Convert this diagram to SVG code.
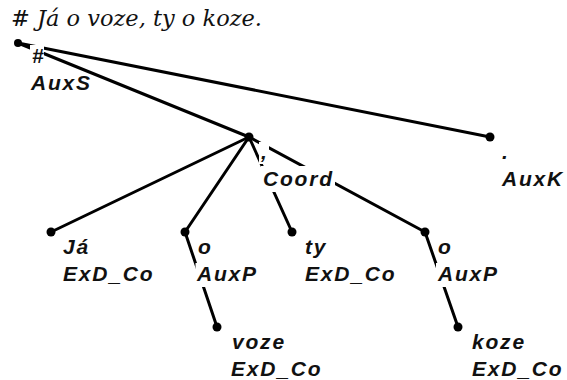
<svg xmlns="http://www.w3.org/2000/svg" width="567" height="380" viewBox="0 0 567 380">
<style>
.e{stroke:#000;stroke-width:3;fill:none;stroke-linecap:round}
.d{fill:#000}
.bg{fill:#fff}
.t{font-family:"Liberation Sans",Arial,sans-serif;font-style:italic;font-weight:bold;font-size:21px;letter-spacing:1.8px;fill:#111}
.title{font-family:"DejaVu Serif","Liberation Serif",serif;font-style:italic;font-size:22px;fill:#111}
</style>
<rect width="567" height="380" fill="#fff"/>
<text class="title" x="11" y="26" textLength="251" lengthAdjust="spacingAndGlyphs"># Já o voze, ty o koze.</text>
<g id="connectors">
<line class="e" x1="18" y1="43" x2="490" y2="137"/>
<line class="e" x1="18" y1="43" x2="249" y2="137"/>
<line class="e" x1="249" y1="137" x2="51" y2="232"/>
<line class="e" x1="249" y1="137" x2="185" y2="232"/>
<line class="e" x1="249" y1="137" x2="292" y2="232"/>
<line class="e" x1="249" y1="137" x2="425" y2="232"/>
<line class="e" x1="185" y1="232" x2="217" y2="327"/>
<line class="e" x1="425" y1="232" x2="458" y2="327"/>
</g>
<g id="n-root">
<circle class="d" cx="18" cy="43" r="4"/>
<rect class="bg" x="30" y="45" width="14" height="22"/>
<text class="t" x="32" y="63">#</text>
<text class="t" x="31" y="90">AuxS</text>
</g>
<g id="n-coord">
<circle class="d" cx="249" cy="137" r="4.5"/>
<rect class="bg" x="259" y="142" width="10" height="22"/>
<rect class="bg" x="261" y="166" width="74" height="26"/>
<text class="t" x="261" y="159">,</text>
<text class="t" x="263" y="186">Coord</text>
</g>
<g id="n-auxk">
<circle class="d" cx="490" cy="137" r="4.5"/>
<text class="t" x="502" y="159">.</text>
<text class="t" x="502" y="186">AuxK</text>
</g>
<g id="n-ja">
<circle class="d" cx="51" cy="232" r="4.5"/>
<text class="t" x="63" y="254">Já</text>
<text class="t" x="63" y="281">ExD_Co</text>
</g>
<g id="n-o1">
<circle class="d" cx="185" cy="232" r="4.5"/>
<rect class="bg" x="195.5" y="263" width="64" height="24"/>
<text class="t" x="198" y="254">o</text>
<text class="t" x="197" y="281">AuxP</text>
</g>
<g id="n-voze">
<circle class="d" cx="217" cy="327" r="4.5"/>
<text class="t" x="232" y="349">voze</text>
<text class="t" x="231" y="376">ExD_Co</text>
</g>
<g id="n-ty">
<circle class="d" cx="292" cy="232" r="4.5"/>
<text class="t" x="305" y="254">ty</text>
<text class="t" x="305" y="281">ExD_Co</text>
</g>
<g id="n-o2">
<circle class="d" cx="425" cy="232" r="4.5"/>
<rect class="bg" x="436" y="263" width="64" height="24"/>
<text class="t" x="438" y="254">o</text>
<text class="t" x="438" y="281">AuxP</text>
</g>
<g id="n-koze">
<circle class="d" cx="458" cy="327" r="4.5"/>
<text class="t" x="472" y="349">koze</text>
<text class="t" x="472" y="376">ExD_Co</text>
</g>
</svg>
